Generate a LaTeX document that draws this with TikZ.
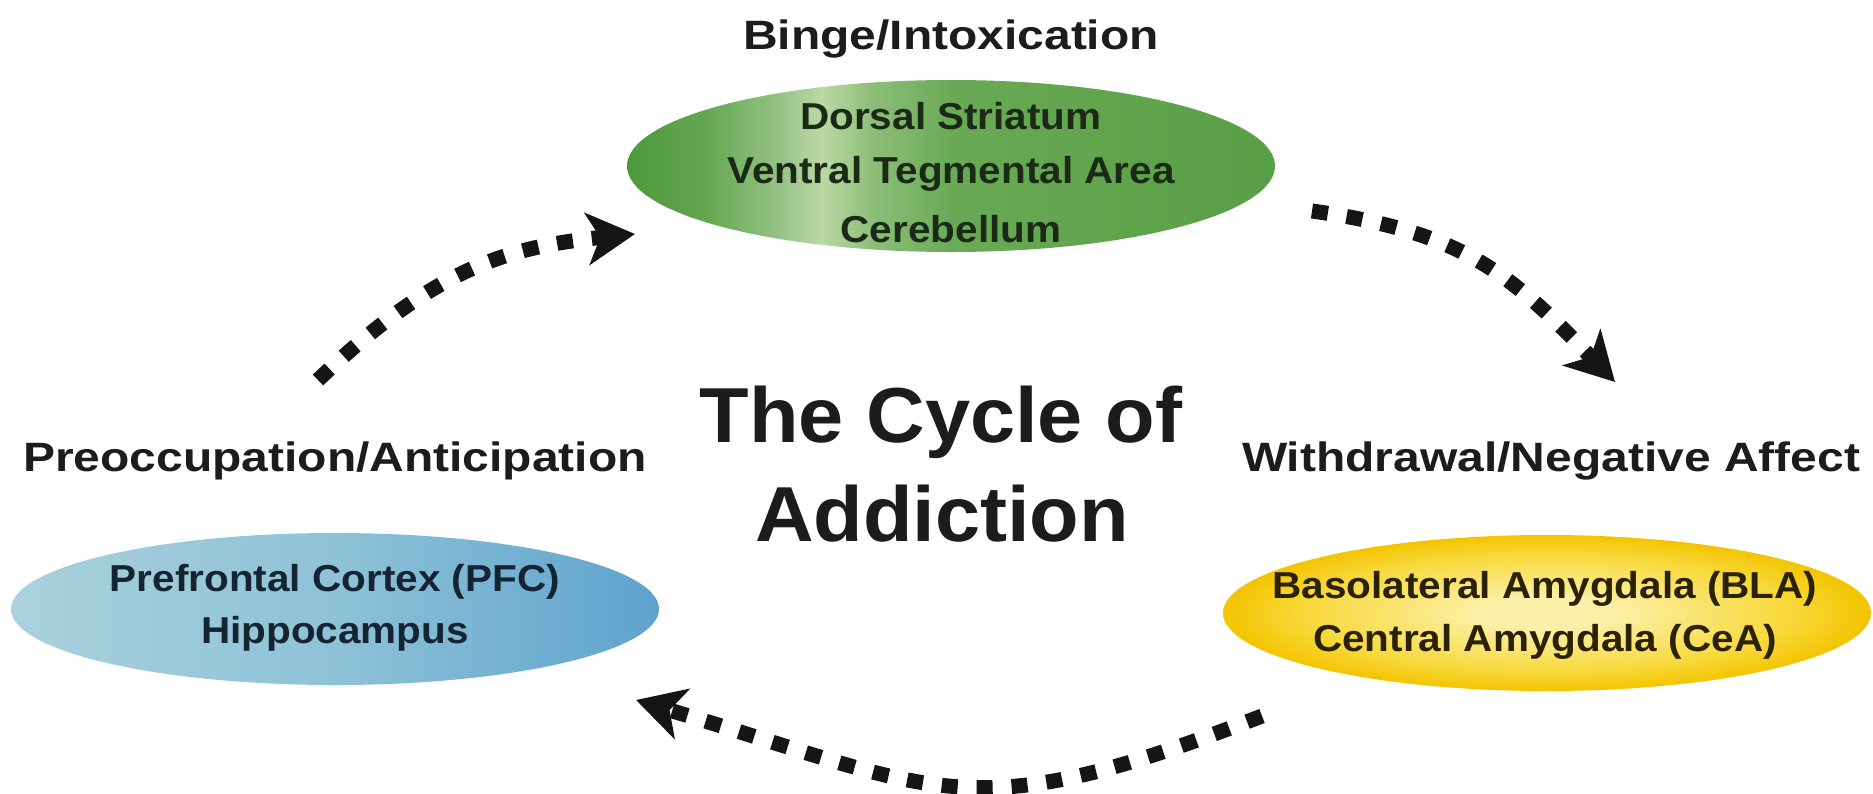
\documentclass[tikz,border=0pt]{standalone}
\usepackage{fontspec}
\usetikzlibrary{arrows.meta,shapes.geometric}
\setmainfont{Liberation Sans}
\newfontfamily\titlef[FakeStretch=1.17]{Liberation Sans}
\newfontfamily\innerf[FakeStretch=1.08]{Liberation Sans}
\newfontfamily\bigf[FakeStretch=1.04]{Liberation Sans}
\definecolor{gA}{HTML}{4C993A}
\definecolor{gB}{HTML}{64A650}
\definecolor{gC}{HTML}{98C488}
\definecolor{gD}{HTML}{BCD8A4}
\definecolor{gE}{HTML}{8CBE78}
\definecolor{gF}{HTML}{6AAA56}
\definecolor{gG}{HTML}{60A44C}
\definecolor{gH}{HTML}{599F46}
\definecolor{bA}{HTML}{AAD1DD}
\definecolor{bB}{HTML}{8EC2D7}
\definecolor{bC}{HTML}{5EA3CD}
\definecolor{yC}{HTML}{FCF0A8}
\definecolor{yM}{HTML}{F8D838}
\definecolor{yE}{HTML}{F3C400}
\definecolor{tcol}{HTML}{1C1C1C}
\definecolor{gtxt}{HTML}{1B2A17}
\definecolor{btxt}{HTML}{142433}
\definecolor{ytxt}{HTML}{2B2206}
\definecolor{acol}{HTML}{151515}
\pgfdeclarehorizontalshading{greensh}{100bp}{color(0bp)=(gA); color(25bp)=(gA); color(31bp)=(gB); color(37bp)=(gC); color(40bp)=(gD); color(44bp)=(gE); color(50bp)=(gF); color(62.5bp)=(gG); color(75bp)=(gH); color(100bp)=(gH)}
\pgfdeclarehorizontalshading{bluesh}{100bp}{color(0bp)=(bA); color(25bp)=(bA); color(50bp)=(bB); color(75bp)=(bC); color(100bp)=(bC)}
\pgfdeclareradialshading{yellowsh}{\pgfpoint{0bp}{0bp}}{color(0bp)=(yC); color(5bp)=(yC); color(19bp)=(yM); color(25bp)=(yE); color(50bp)=(yE)}
\tikzset{
  region/.style={ellipse, minimum width=648pt, inner sep=0pt, draw=none},
  stage/.style={font=\titlef\bfseries\fontsize{41}{49}\selectfont, text=tcol, anchor=base, inner sep=0pt},
  area/.style={font=\innerf\bfseries\fontsize{37.5}{45}\selectfont, anchor=base, inner sep=0pt},
  bigtitle/.style={font=\bigf\bfseries\fontsize{78}{90}\selectfont, text=tcol, anchor=base, inner sep=0pt},
  cyc/.style={-{Stealth[length=48pt,width=52pt,inset=13pt]}, line width=15pt, dash pattern=on 16pt off 19pt, draw=acol},
}
\begin{document}
\begin{tikzpicture}[x=1pt,y=-1pt]
\useasboundingbox (0,0) rectangle (1873,793);
\fill[white] (0,0) rectangle (1873,793);

% regions
\node[region, minimum height=172pt, shading=greensh] (binge) at (951,166) {};
\node[region, minimum height=152pt, shading=bluesh] (preocc) at (335,609) {};
\node[region, minimum height=156pt, shading=yellowsh] (withdr) at (1547,613) {};

% stage titles
\node[stage] (tbinge) at (951,49) {Binge/Intoxication};
\node[stage] (tpre) at (335,471) {Preoccupation/Anticipation};
\node[stage] (twith) at (1551,471) {Withdrawal/Negative Affect};

% region texts
\node[area, text=gtxt] (g1) at (951,129) {Dorsal Striatum};
\node[area, text=gtxt] (g2) at (951,183) {Ventral Tegmental Area};
\node[area, text=gtxt] (g3) at (951,242) {Cerebellum};
\node[area, text=btxt] (b1) at (335,591) {Prefrontal Cortex (PFC)};
\node[area, text=btxt] (b2) at (335,643) {Hippocampus};
\node[area, text=ytxt] (y1) at (1545,598) {Basolateral Amygdala (BLA)};
\node[area, text=ytxt] (y2) at (1545,651) {Central Amygdala (CeA)};

% centre title
\node[bigtitle] (c1) at (941,442) {The Cycle of};
\node[bigtitle] (c2) at (942,541) {Addiction};

% cycle arrows
\coordinate (a1s) at (318,380);
\coordinate (a1e) at (635,234);
\coordinate (a2s) at (1312,211);
\coordinate (a2e) at (1615,382);
\coordinate (a3s) at (1262,716);
\coordinate (a3e) at (636,700);
\draw[cyc] (a1s) .. controls (435,268) and (507,247) .. (a1e);
\draw[cyc] (a2s) .. controls (1462,232) and (1509,272) .. (a2e);
\draw[cyc] (a3s) .. controls (966,830) and (945,793) .. (a3e);
\end{tikzpicture}
\end{document}
